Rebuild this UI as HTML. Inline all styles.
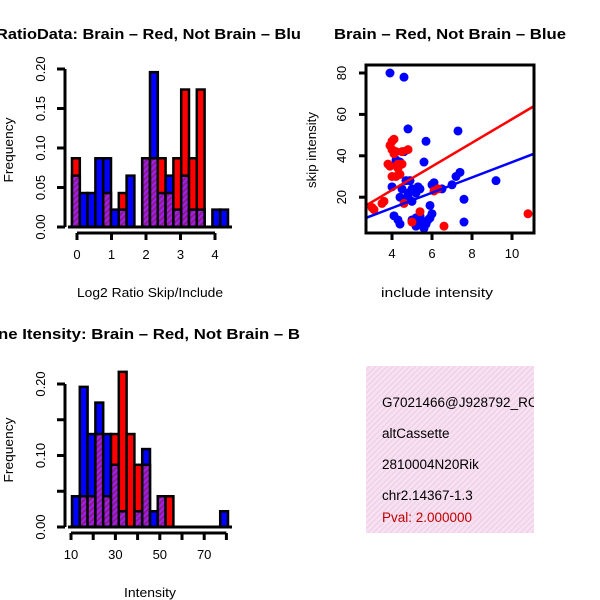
<!DOCTYPE html>
<html><head><meta charset="utf-8"><style>
html,body{margin:0;padding:0;background:#fff}
svg{display:block;font-family:"Liberation Sans",sans-serif}
</style></head><body>
<svg id="c" width="600" height="600" viewBox="0 0 600 600" xmlns="http://www.w3.org/2000/svg">
<defs>
<pattern id="purp" width="4" height="4" patternUnits="userSpaceOnUse" patternTransform="rotate(45)">
<rect width="4" height="4" fill="#a020f0"/><rect width="2" height="4" fill="#8b1a8b"/></pattern>
<pattern id="pink" width="4" height="4" patternUnits="userSpaceOnUse" patternTransform="rotate(45)">
<rect width="4" height="4" fill="#fae0f4"/><rect width="1.5" height="4" fill="#ecd4e4"/></pattern>
<clipPath id="left"><rect x="0" y="0" width="300" height="600"/></clipPath>
<clipPath id="sc"><rect x="366" y="65" width="168" height="168"/></clipPath>
<clipPath id="info"><rect x="366" y="366" width="168" height="167"/></clipPath>
</defs>
<g id="h1"></g>
<g id="h2"></g>
<g id="sp"></g>
<g>
<rect x="366" y="366" width="168" height="167" fill="url(#pink)"/>
<g font-size="13.5" fill="#000" clip-path="url(#info)">
<text x="382" y="407">G7021466@J928792_RC</text>
<text x="382" y="438">altCassette</text>
<text x="382" y="469">2810004N20Rik</text>
<text x="382" y="500">chr2.14367-1.3</text>
<text x="382" y="522" fill="#c00000">Pval: 2.000000</text>
</g></g>
</svg>
<script>
// Ratio histogram data
const h1Red  = [0.087,0,0,0,0.043,0,0.043,0,0,0.087,0.087,0.087,0.043,0.087,0.174,0.087,0.174,0,0,0];
const h1Blue = [0.065,0.043,0.043,0.087,0.087,0.022,0.022,0.065,0,0.087,0.196,0.043,0.065,0.022,0.065,0.022,0.022,0,0.022,0.022];
const h1YTicks = ["0.00","0.05","0.10","0.15","0.20"];
const h1XTicks = ["0","1","2","3","4"];
// Intensity histogram data
const h2Red  = [0,0.043,0.043,0.13,0.043,0.13,0.217,0.13,0.087,0.087,0,0.043,0.043,0,0,0,0,0,0,0];
const h2Blue = [0.043,0.196,0.13,0.174,0.13,0.087,0.022,0,0.022,0.109,0.022,0.043,0,0,0,0,0,0,0,0.022];
const h2YTicks = ["0.00","0.10","0.20"];
const h2XTicks = ["10","30","50","70"];
// Scatter data
const redX = [3.0,3.1,3.5,3.6,3.9,3.9,4.0,4.1,4.0,4.2,4.5,3.8,4.0,4.3,4.4,4.3,4.5,4.2,4.8,4.6,5.0,5.4,6.6,10.8,6.1,6.3,4.1];
const redY = [15,14,17,18,35,45,47,48,43,42,42,36,30,36,31,34,36,30,43,17,8,13,6,12,23,24,41];
const blueX = [3.9,4.6,4.8,5.7,7.3,5.6,4.6,4.2,4.4,4.7,4.0,4.8,4.4,5.0,5.2,5.4,6.0,5.9,6.1,7.0,7.2,7.4,9.2,7.6,7.6,4.1,4.3,4.4,5.0,5.2,5.4,5.5,5.7,5.9,6.0,5.6,5.8,5.2,4.8,5.0,4.5,5.3,6.5,4.9];
const blueY = [80,78,53,47,52,37,42,38,37,28,25,22,20,24,22,24,26,16,27,26,30,32,28,19,8,11,9,7,9,6,11,8,7,10,12,5,9,10,20,18,24,25,24,28];
const scYTicks = [20,40,60,80];
const scXTicks = [4,6,8,10];
const redFit = [[2.7,16],[11.1,64]];
const blueFit = [[2.7,10],[11.1,41]];

const NS="http://www.w3.org/2000/svg";
function mk(p,tag,a){const e=document.createElementNS(NS,tag);for(const k in a)e.setAttribute(k,a[k]);p.appendChild(e);return e;}

function hist(g,red,blue,x0,x1,yScale,yTicks,yTickVals,xTickLabels,xTickPos,axisX,xAxisY,minorTicks){
  const n=red.length,w=(x1-x0)/n;
  red.forEach((r,i)=>{
    const b=blue[i],mx=Math.max(r,b),mn=Math.min(r,b);
    if(mx<=0)return;
    const x=x0+i*w;
    const col=r>=b?'#ff0000':'#0000ff';
    const bar=mk(g,'rect',{x:x,y:yScale(mx),width:w,height:yScale(0)-yScale(mx),fill:col,stroke:'#000','stroke-width':2.5});
    
    
    if(mn>0){
      const o=mk(g,'rect',{x:x,y:yScale(mn),width:w,height:yScale(0)-yScale(mn),fill:'url(#purp)',stroke:'#000','stroke-width':2.5});
      
      
    }
  });
  mk(g,'line',{x1:x0-4,x2:x1+4,y1:yScale(0),y2:yScale(0),stroke:'#000','stroke-width':3});
  const ya=mk(g,'line',{x1:axisX,x2:axisX,y1:yScale(0),y2:yScale(yTickVals[yTickVals.length-1]),stroke:'#000','stroke-width':3});
  
  
  yTickVals.forEach((v,i)=>{
    mk(g,'line',{x1:axisX-8,x2:axisX,y1:yScale(v),y2:yScale(v),stroke:'#000','stroke-width':3});
    const t=mk(g,'text',{x:0,y:0,'font-size':13,'text-anchor':'middle',transform:`translate(${axisX-20},${yScale(v)}) rotate(-90)`});
    t.textContent=yTicks[i];
    
    
  });
  const xa=mk(g,'line',{x1:minorTicks[0],x2:minorTicks[minorTicks.length-1],y1:xAxisY,y2:xAxisY,stroke:'#000','stroke-width':3});
  
  
  minorTicks.forEach(p=>mk(g,'line',{x1:p,x2:p,y1:xAxisY,y2:xAxisY+7,stroke:'#000','stroke-width':3}));
  xTickLabels.forEach((l,i)=>{
    const t=mk(g,'text',{x:xTickPos[i],y:xAxisY+26,'font-size':13,'text-anchor':'middle'});
    t.textContent=l;
    
    
  });
}
function label(g,txt,x,y,opts,name){
  const t=mk(g,'text',Object.assign({x:x,y:y,'font-size':12.5,'text-anchor':'middle','lengthAdjust':'spacingAndGlyphs'},opts||{}));
  t.textContent=txt;
  
  
  return t;
}

// Panel 1
const g1=document.getElementById('h1');
const y1=v=>227-v*790;
const x1s=v=>77+v*34.5;
hist(g1,h1Red,h1Blue,72,228,y1,h1YTicks,[0,0.05,0.1,0.15,0.2],h1XTicks,h1XTicks.map(s=>x1s(+s)),65,233,[0,1,2,3,4].map(x1s));
label(g1,'Frequency',0,0,{transform:'translate(13,150) rotate(-90)',textLength:65},'y-axis-title');
label(g1,'Log2 Ratio Skip/Include',150,297,{textLength:146},'x-axis-title');
label(g1,'RatioData: Brain \u2013 Red, Not Brain \u2013 Blue',-4,39,{'text-anchor':'start','font-size':15,'font-weight':'bold','clip-path':'url(#left)',textLength:314},'chart-title');

// Panel 2
const g2=document.getElementById('h2');
const y2=v=>527-v*715;
const x2s=v=>71+(v-10)*2.22;
hist(g2,h2Red,h2Blue,72,228,y2,h2YTicks,[0,0.1,0.2],h2XTicks,h2XTicks.map(s=>x2s(+s)),65,533,[10,20,30,40,50,60,70,80].map(x2s));
[0.05,0.15].forEach(v=>mk(g2,'line',{x1:57,x2:65,y1:y2(v),y2:y2(v),stroke:'#000','stroke-width':3}));
label(g2,'Frequency',0,0,{transform:'translate(13,450) rotate(-90)',textLength:65},'y-axis-title');
label(g2,'Intensity',150,597,{textLength:52},'x-axis-title');
label(g2,'ne Itensity: Brain \u2013 Red, Not Brain \u2013 B',-2,339,{'text-anchor':'start','font-size':15,'font-weight':'bold','clip-path':'url(#left)',textLength:302},'chart-title');

// Scatter
const g3=document.getElementById('sp');
const sx=v=>312+v*20;
const sy=v=>238.6-v*2.07;
const pts=mk(g3,'g',{'clip-path':'url(#sc)'});
blueX.forEach((x,i)=>{const c=mk(pts,'circle',{cx:sx(x),cy:sy(blueY[i]),r:4.5,fill:'#0000ff'});
  });
redX.forEach((x,i)=>{const c=mk(pts,'circle',{cx:sx(x),cy:sy(redY[i]),r:4.5,fill:'#ff0000'});
  });
const rl=mk(pts,'line',{x1:sx(redFit[0][0]),y1:sy(redFit[0][1]),x2:sx(redFit[1][0]),y2:sy(redFit[1][1]),stroke:'#ff0000','stroke-width':2.5});

const bl=mk(pts,'line',{x1:sx(blueFit[0][0]),y1:sy(blueFit[0][1]),x2:sx(blueFit[1][0]),y2:sy(blueFit[1][1]),stroke:'#0000ff','stroke-width':2.5});

const box=mk(g3,'rect',{x:366,y:65,width:168,height:168,fill:'none',stroke:'#000','stroke-width':3});

scYTicks.forEach(v=>{mk(g3,'line',{x1:359,x2:366,y1:sy(v),y2:sy(v),stroke:'#000','stroke-width':3});
  label(g3,String(v),0,0,{transform:`translate(346,${sy(v)}) rotate(-90)`,'font-size':13},'y-tick-label');});
scXTicks.forEach(v=>{mk(g3,'line',{x1:sx(v),x2:sx(v),y1:233,y2:240,stroke:'#000','stroke-width':3});
  label(g3,String(v),sx(v),258,{'font-size':13},'x-tick-label');});
label(g3,'skip intensity',0,0,{transform:'translate(316,150) rotate(-90)',textLength:76},'y-axis-title');
label(g3,'include intensity',437,297,{'font-size':13,textLength:112},'x-axis-title');
label(g3,'Brain \u2013 Red, Not Brain \u2013 Blue',450,39,{'font-size':15,'font-weight':'bold',textLength:232},'chart-title');
</script>
</body></html>
